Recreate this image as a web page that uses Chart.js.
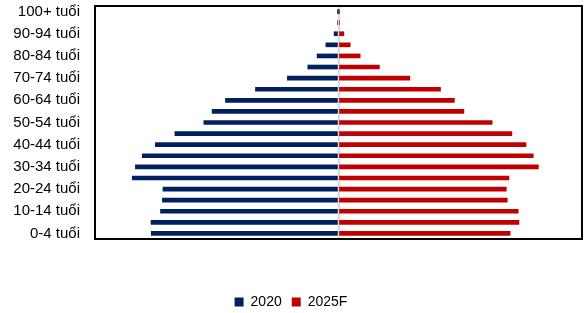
<!DOCTYPE html>
<html>
<head>
<meta charset="utf-8">
<script src="https://cdn.jsdelivr.net/npm/chart.js@4"></script>
<style>
  html, body { margin: 0; padding: 0; background: #fff; }
  #wrap { width: 585px; height: 313px; }
</style>
</head>
<body>
<div id="wrap"><canvas id="pyramidChart" width="585" height="313"></canvas></div>
<script>
// age groups, bottom to top
const ageGroups = ["0-4 tuổi", "5-9 tuổi", "10-14 tuổi", "15-19 tuổi", "20-24 tuổi", "25-29 tuổi",
  "30-34 tuổi", "35-39 tuổi", "40-44 tuổi", "45-49 tuổi", "50-54 tuổi", "55-59 tuổi",
  "60-64 tuổi", "65-69 tuổi", "70-74 tuổi", "75-79 tuổi", "80-84 tuổi", "85-89 tuổi",
  "90-94 tuổi", "95-99 tuổi", "100+ tuổi"];

// thousand people
const pop2020 = [7690, 7700, 7310, 7230, 7210, 8470, 8340, 8060, 7520, 6720, 5530, 5190,
  4640, 3410, 2100, 1260, 880, 520, 180, 40, 12];
const pop2025F = [7050, 7410, 7380, 6930, 6890, 7000, 8210, 8000, 7700, 7120, 6310, 5150,
  4760, 4190, 2930, 1680, 890, 480, 220, 40, 10];

const seriesNames = ["2020", "2025F"];
const seriesColors = ["#002060", "#C00000"];

// black box round the plot area
const frameBox = {
  id: "frameBox",
  afterDraw(chart) {
    const a = chart.chartArea;
    const c = chart.ctx;
    c.save();
    c.strokeStyle = "#000";
    c.lineWidth = 2;
    c.strokeRect(a.left, a.top, a.right - a.left, a.bottom - a.top);
    c.restore();
  }
};

const ctx = document.getElementById("pyramidChart").getContext("2d");
const chart = new Chart(ctx, {
  type: "bar",
  data: {
    labels: ageGroups,
    datasets: [{
      label: seriesNames[0],
      data: pop2020.map(v => -v),
      backgroundColor: seriesColors[0],
      barThickness: 4
    }, {
      label: seriesNames[1],
      data: pop2025F,
      backgroundColor: seriesColors[1],
      barThickness: 4
    }]
  },
  options: {
    indexAxis: "y",
    responsive: false,
    animation: false,
    layout: { padding: { top: 6, right: 3, bottom: -6, left: 0 } },
    plugins: {
      tooltip: { enabled: false },
      legend: {
        position: "bottom",
        labels: {
          boxWidth: 9,
          boxHeight: 9,
          padding: 10,
          color: "#000",
          font: { family: "'Liberation Sans', Arial, sans-serif", size: 14 }
        }
      }
    },
    scales: {
      x: {
        stacked: true,
        min: -10000,
        max: 10000,
        ticks: { display: false, stepSize: 10000 },
        border: { display: false },
        grid: {
          drawTicks: false,
          lineWidth: 2,
          color: c => (c.tick && c.tick.value === 0 ? "#d9d9d9" : "rgba(0,0,0,0)")
        },
        afterFit: s => { s.height = 46; }
      },
      y: {
        stacked: true,
        reverse: true,
        border: { display: false },
        grid: { display: false, drawTicks: false },
        ticks: {
          autoSkip: false,
          padding: 15,
          color: "#000",
          font: { family: "'Liberation Sans', Arial, sans-serif", size: 15 },
          callback: function (val, i) {
            return i % 2 === 0 ? this.getLabelForValue(val) : "";
          }
        },
        afterFit: s => {
          s.width = 95;
          s.paddingTop = 0;
          s.paddingBottom = 0;
        }
      }
    }
  },
  plugins: [frameBox]
});
</script>
</body>
</html>
